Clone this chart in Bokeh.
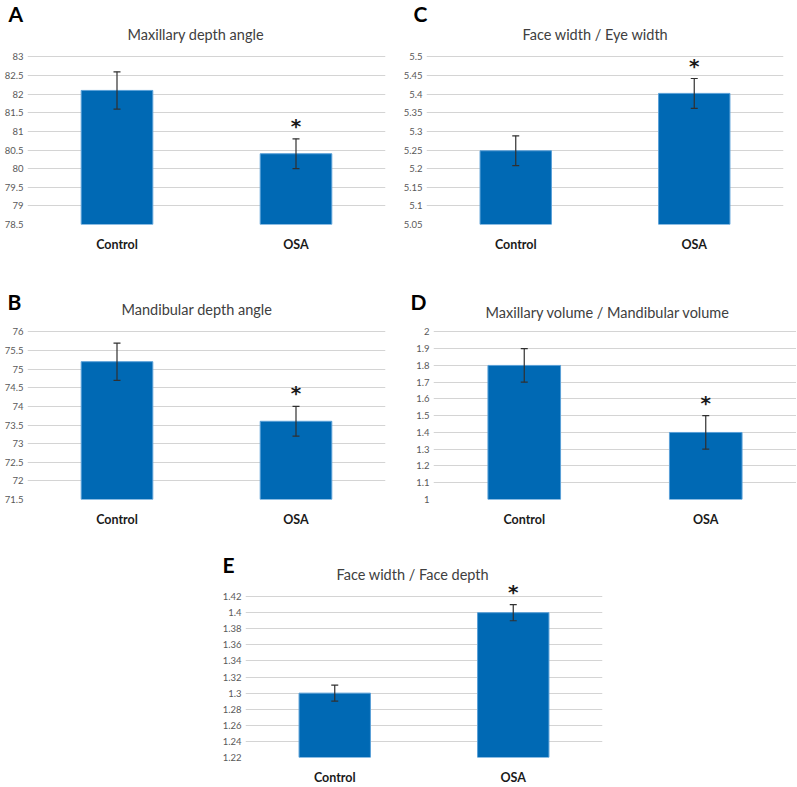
from bokeh.plotting import figure
from bokeh.models import (ColumnDataSource, Whisker, Title, FixedTicker,
                          CustomJSTickFormatter, FactorRange, Range1d)
from bokeh.layouts import row, column
from bokeh.embed import file_html
from bokeh.resources import INLINE
from bokeh.core.properties import value

categories = ["Control", "OSA"]

a_title = "Maxillary depth angle"
a_means = [82.1, 80.4]
a_errs = [0.5, 0.4]
a_ticks = [78.5, 79, 79.5, 80, 80.5, 81, 81.5, 82, 82.5, 83]
a_sig = [False, True]

c_title = "Face width / Eye width"
c_means = [5.248, 5.402]
c_errs = [0.04, 0.04]
c_ticks = [5.05, 5.1, 5.15, 5.2, 5.25, 5.3, 5.35, 5.4, 5.45, 5.5]
c_sig = [False, True]

b_title = "Mandibular depth angle"
b_means = [75.2, 73.6]
b_errs = [0.5, 0.4]
b_ticks = [71.5, 72, 72.5, 73, 73.5, 74, 74.5, 75, 75.5, 76]
b_sig = [False, True]

d_title = "Maxillary volume / Mandibular volume"
d_means = [1.8, 1.4]
d_errs = [0.1, 0.1]
d_ticks = [1, 1.1, 1.2, 1.3, 1.4, 1.5, 1.6, 1.7, 1.8, 1.9, 2]
d_sig = [False, True]

e_title = "Face width / Face depth"
e_means = [1.30, 1.40]
e_errs = [0.01, 0.01]
e_ticks = [1.22, 1.24, 1.26, 1.28, 1.3, 1.32, 1.34, 1.36, 1.38, 1.4, 1.42]
e_sig = [False, True]

FONT = "Lato"
BAR = "#0069B4"
EDGE = "#5AA0D8"


def panel(letter, title, means, errs, ticks, sig, width, height,
          bl, br, bt, bb, pad, t_offset, t_standoff, l_offset, l_standoff):
    span = ticks[-1] - ticks[0]
    p = figure(x_range=FactorRange(*categories),
               y_range=Range1d(ticks[0], ticks[-1] + pad * span),
               width=width, height=height, output_backend="svg",
               toolbar_location=None, title=letter,
               min_border_left=bl, min_border_right=br,
               min_border_top=bt, min_border_bottom=bb)
    p.x_range.range_padding = 0
    p.outline_line_color = None
    p.background_fill_color = "white"
    p.border_fill_color = "white"

    # panel letter (outermost title)
    p.title.align = "left"
    p.title.offset = l_offset
    p.title.standoff = l_standoff
    p.title.text_font = FONT
    p.title.text_font_style = "bold"
    p.title.text_font_size = "21px"
    p.title.text_color = "black"

    # chart title (closest to the plot area)
    p.add_layout(Title(text=title, align="left", offset=t_offset,
                       standoff=t_standoff, text_font=FONT,
                       text_font_style="normal", text_font_size="14.5px",
                       text_color="#404040"), "above")

    upper = [m + e for m, e in zip(means, errs)]
    lower = [m - e for m, e in zip(means, errs)]
    src = ColumnDataSource(dict(cat=categories, mean=means, upper=upper, lower=lower))
    p.vbar(x="cat", top="mean", bottom=ticks[0], width=0.4, source=src,
           fill_color=BAR, line_color=EDGE, line_width=1)

    w = Whisker(base="cat", upper="upper", lower="lower", source=src,
                line_color="#303030", line_width=1.2, level="overlay")
    w.upper_head.size = 7
    w.lower_head.size = 7
    w.upper_head.line_color = "#303030"
    w.lower_head.line_color = "#303030"
    w.upper_head.line_width = 1.2
    w.lower_head.line_width = 1.2
    p.add_layout(w)

    sx = [c for c, s in zip(categories, sig) if s]
    sy = [u for u, s in zip(upper, sig) if s]
    p.text(x=sx, y=sy, text=["*"] * len(sx), text_align="center",
           text_baseline="alphabetic", y_offset=-13,
           text_font=value("DejaVu Sans"), text_font_style="bold",
           text_font_size="20px", text_color="#1a1a1a")

    p.yaxis.ticker = FixedTicker(ticks=ticks)
    p.yaxis.formatter = CustomJSTickFormatter(
        code="return String(Number(tick.toFixed(4)));")
    p.yaxis.axis_line_color = None
    p.yaxis.major_tick_line_color = None
    p.yaxis.minor_tick_line_color = None
    p.yaxis.major_tick_out = 0
    p.yaxis.major_tick_in = 0
    p.yaxis.minor_tick_out = 0
    p.yaxis.major_label_text_font = FONT
    p.yaxis.major_label_text_font_size = "9.5px"
    p.yaxis.major_label_text_color = "#595959"
    p.yaxis.major_label_standoff = 4

    p.xaxis.axis_line_color = None
    p.xaxis.major_tick_line_color = None
    p.xaxis.minor_tick_line_color = None
    p.xaxis.major_tick_out = 0
    p.xaxis.major_tick_in = 0
    p.xaxis.minor_tick_out = 0
    p.xaxis.major_label_text_font = FONT
    p.xaxis.major_label_text_font_style = "bold"
    p.xaxis.major_label_text_font_size = "12.5px"
    p.xaxis.major_label_text_color = "#1a1a1a"
    p.xaxis.major_label_standoff = 12

    p.xgrid.grid_line_color = None
    p.ygrid.grid_line_color = "#d4d4d4"
    p.ygrid.grid_line_width = 1
    return p


pA = panel("A", a_title, a_means, a_errs, a_ticks, a_sig, 400, 266,
           27, 15, 43, 42, 0.08, 100, 2, -19, -6)
pC = panel("C", c_title, c_means, c_errs, c_ticks, c_sig, 396, 266,
           26, 13, 43, 42, 0.08, 96, 2, -13, -6)
pB = panel("B", b_title, b_means, b_errs, b_ticks, b_sig, 400, 264,
           27, 15, 52, 31, 0.08, 94, 2, -20, -32)
pD = panel("D", d_title, d_means, d_errs, d_ticks, d_sig, 396, 264,
           33, 0, 52, 29, 0.08, 52, -4, -23, -20)
pE = panel("E", e_title, e_means, e_errs, e_ticks, e_sig, 608, 257,
           245, 6, 50, 23, 0.1, 91, -4, -23, -22)

layout = column(row(pA, pC), row(pB, pD), pE)
open("out.html", "w").write(file_html(layout, INLINE))
